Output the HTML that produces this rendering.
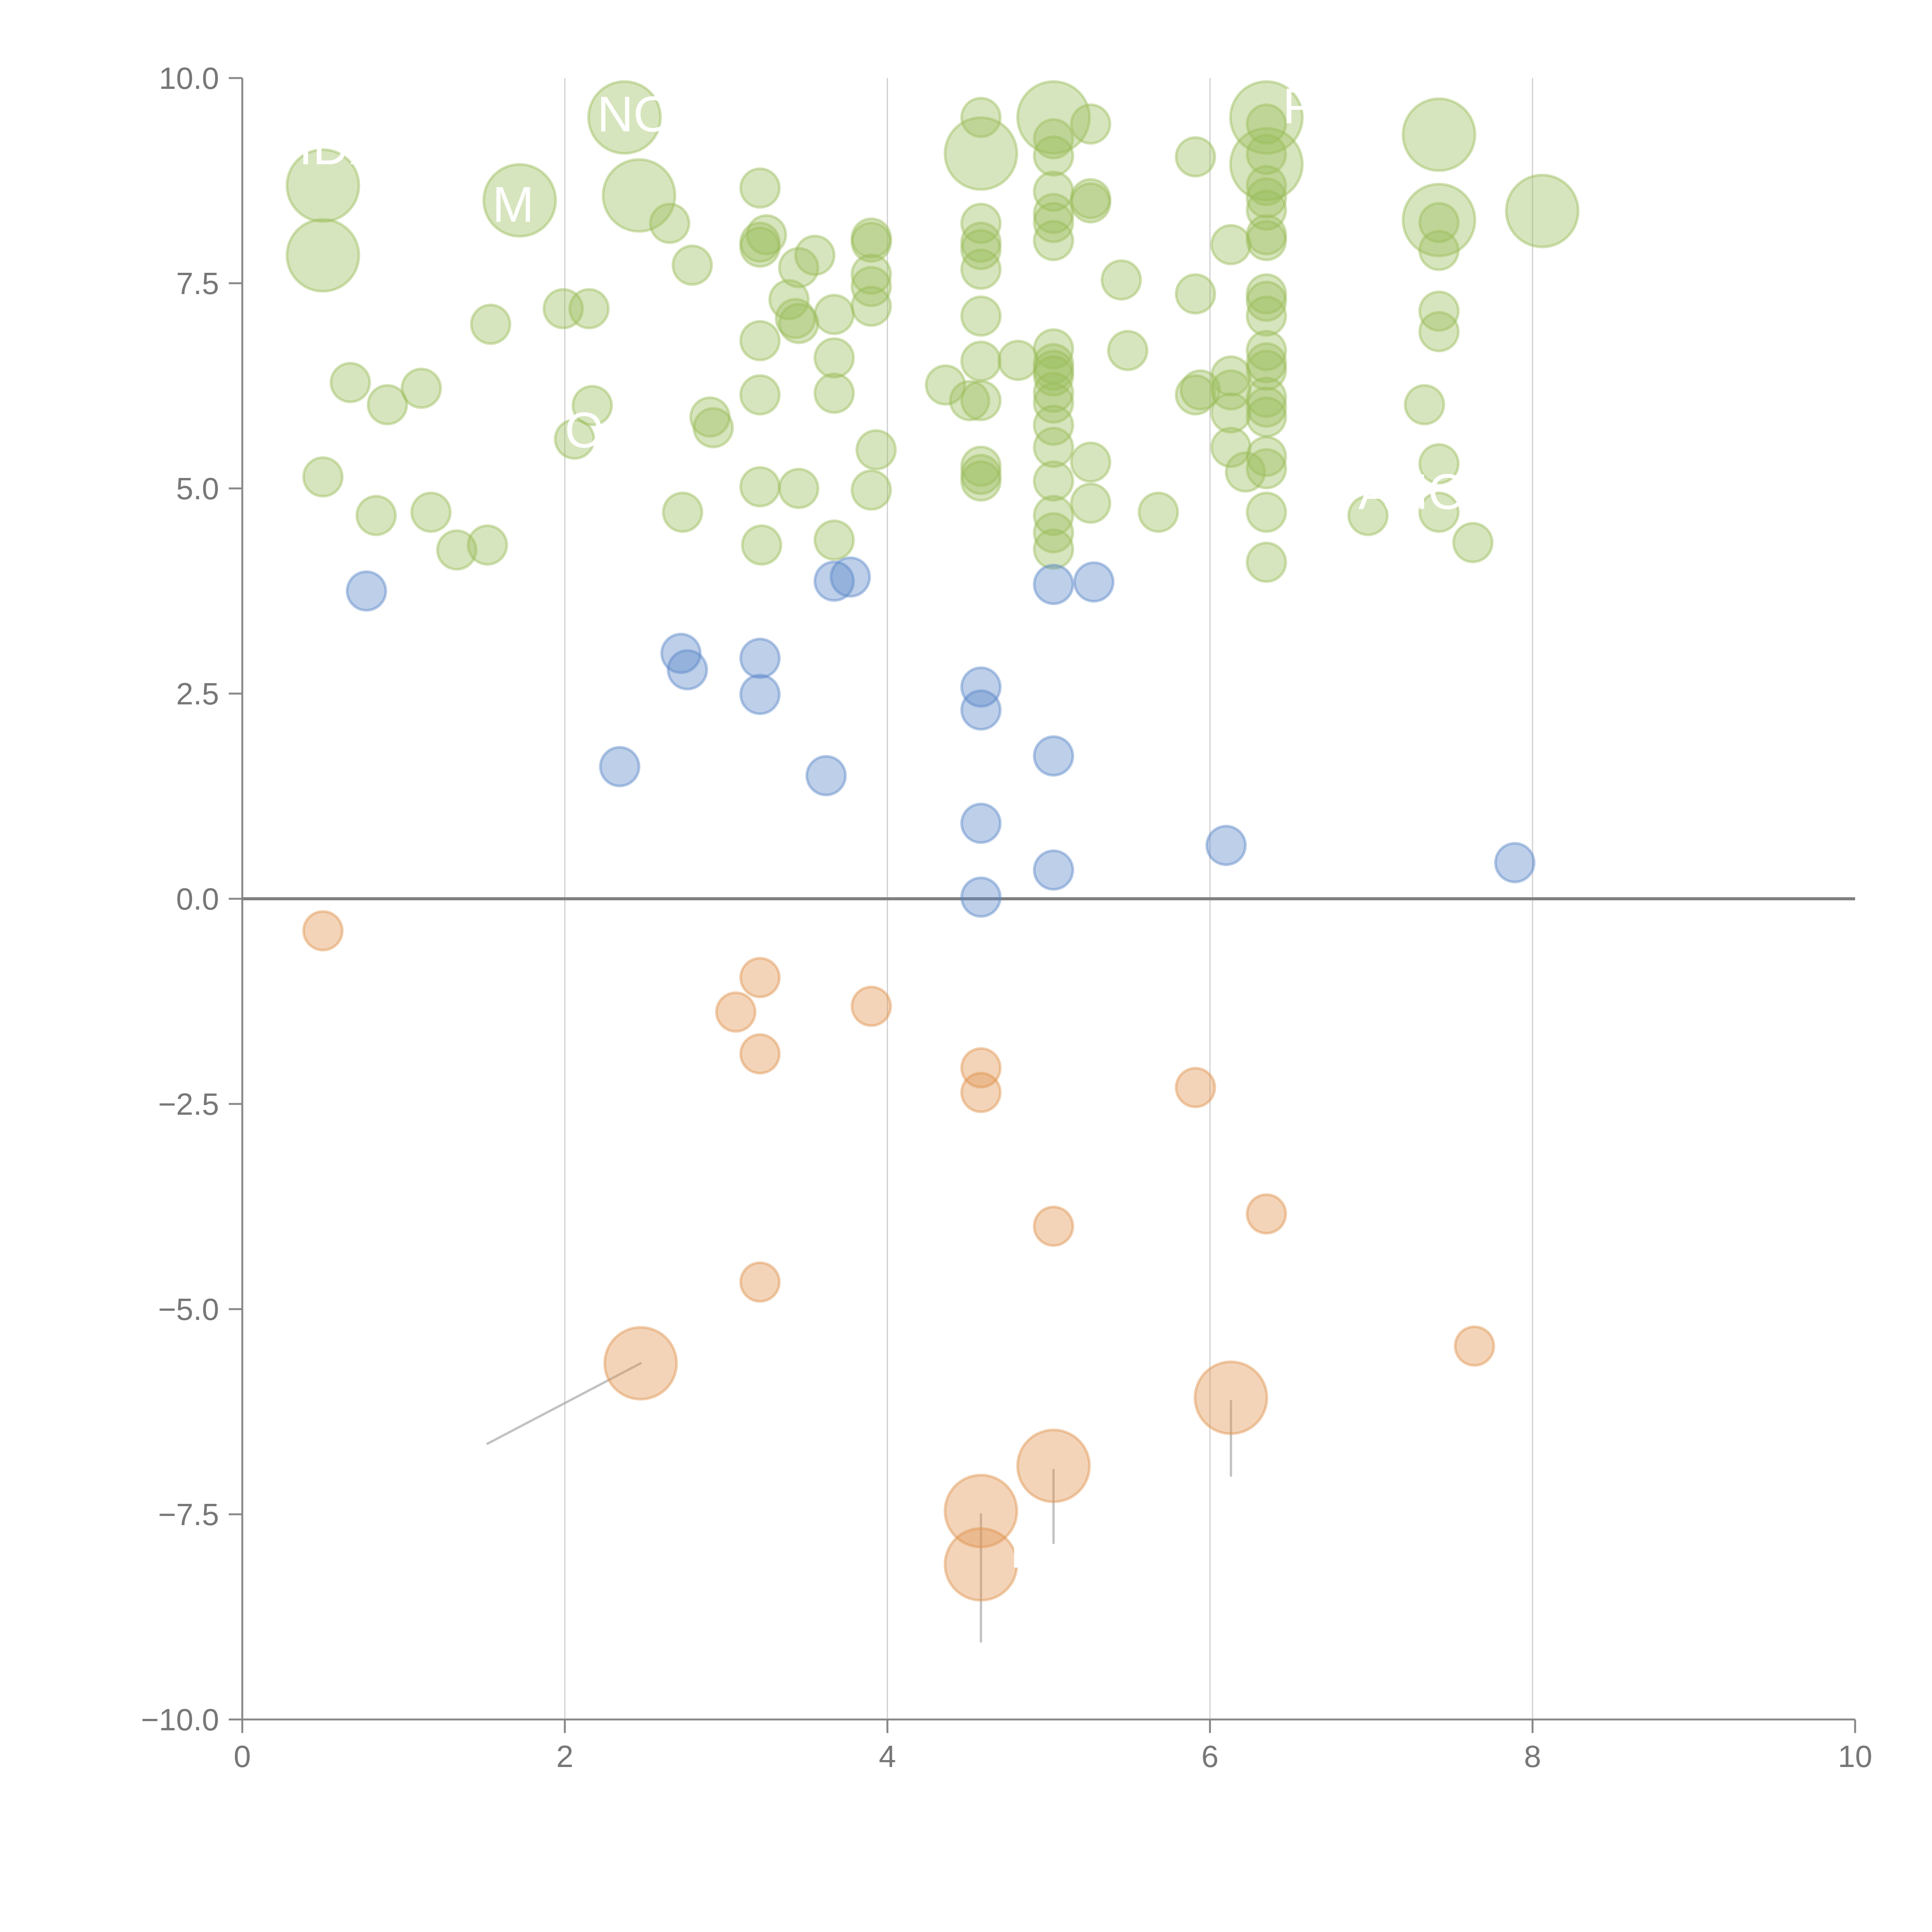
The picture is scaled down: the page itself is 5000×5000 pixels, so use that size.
<!DOCTYPE html>
<html><head><meta charset="utf-8"><style>
html,body{margin:0;padding:0;background:#fff;}
svg{display:block;font-family:"Liberation Sans",sans-serif;}
</style></head><body>
<svg id="chart" width="5000" height="5000" viewBox="0 0 5000 5000" xmlns="http://www.w3.org/2000/svg">
<rect width="5000" height="5000" fill="#fff"/>
<g id="grid"></g>
<g id="axes"></g>
<g id="lines"></g>
<g id="marks"></g>
<g id="labels"></g>
</svg>
<script>
const xTicks = [0,2,4,6,8,10];
const yTicks = [-10,-7.5,-5,-2.5,0,2.5,5,7.5,10];
const yTickLabels = ["\u221210.0","\u22127.5","\u22125.0","\u22122.5","0.0","2.5","5.0","7.5","10.0"];

const greenX = [0.50,0.67,0.83,0.90,1.11,1.17,1.33,1.52,1.54,1.99,2.06,2.15,2.17,2.65,2.73,2.79,2.90,2.92,3.21,3.21,3.21,3.25,3.21,3.21,3.21,3.22,3.39,3.43,3.45,3.45,3.45,3.55,3.67,3.67,3.67,3.67,3.90,3.90,3.90,3.90,3.90,3.90,3.93,4.36,4.51,4.58,4.58,4.58,4.58,4.58,4.58,4.58,4.58,4.58,4.58,4.58,4.81,5.03,5.03,5.03,5.03,5.03,5.03,5.03,5.03,5.03,5.03,5.03,5.03,5.03,5.03,5.03,5.03,5.03,5.03,5.26,5.26,5.26,5.26,5.26,5.45,5.49,5.68,5.91,5.91,5.91,5.94,6.13,6.13,6.13,6.13,6.13,6.22,6.35,6.35,6.35,6.35,6.35,6.35,6.35,6.35,6.35,6.35,6.35,6.35,6.35,6.35,6.35,6.35,6.35,6.35,6.35,6.35,6.98,7.33,7.42,7.42,7.42,7.42,7.42,7.42,7.63];
const greenY = [5.14,6.29,4.67,6.02,6.22,4.71,4.25,4.31,7.00,7.19,5.60,7.19,6.01,8.23,4.71,7.72,5.87,5.74,8.66,8.00,7.94,8.09,6.80,6.14,5.02,4.31,7.30,7.07,7.01,7.69,5.00,7.84,7.12,6.59,6.16,4.37,8.05,8.00,7.61,7.46,7.22,4.98,5.47,6.26,6.07,9.52,8.23,8.00,7.91,7.67,7.10,6.55,6.07,5.27,5.17,5.09,6.56,9.26,9.05,8.62,8.35,8.24,8.02,6.70,6.52,6.44,6.37,6.17,6.04,5.77,5.50,5.09,4.67,4.46,4.26,9.44,8.53,8.48,5.32,4.82,7.54,6.68,4.71,9.04,7.37,6.14,6.20,7.97,6.37,6.20,5.92,5.50,5.20,9.44,9.07,8.69,8.54,8.39,8.09,8.02,7.37,7.28,7.10,6.68,6.53,6.44,6.11,5.99,5.87,5.39,5.24,4.71,4.10,4.67,6.02,8.24,7.90,7.16,6.91,5.30,4.71,4.34];
const greenBigX = [0.50,0.50,1.72,2.37,2.46,4.58,5.03,6.35,6.35,7.42,7.42,8.06];
const greenBigY = [8.69,7.84,8.51,9.52,8.57,9.08,9.52,9.52,8.95,9.31,8.27,8.38];
const blueX = [0.77,2.34,2.72,2.76,3.21,3.21,3.62,3.67,3.77,4.58,4.58,4.58,4.58,5.03,5.03,5.03,5.28,6.10,7.89];
const blueY = [3.75,1.61,2.99,2.79,2.93,2.49,1.50,3.87,3.92,2.58,2.30,0.92,0.02,3.83,1.74,0.35,3.86,0.65,0.44];
const orangeX = [0.50,3.21,3.06,3.21,3.90,4.58,4.58,5.91,5.03,6.35,3.21,7.64];
const orangeY = [-0.39,-0.96,-1.38,-1.89,-1.31,-2.06,-2.36,-2.30,-3.99,-3.84,-4.67,-5.45];
const orangeBigX = [2.47,4.58,4.58,5.03,6.13];
const orangeBigY = [-5.66,-7.46,-8.11,-6.91,-6.08];
const leaderFromX = [2.47,4.58,5.03,6.13];
const leaderFromY = [-5.66,-7.50,-6.96,-6.12];
const leaderToX = [1.52,4.58,5.03,6.13];
const leaderToY = [-6.64,-9.05,-7.85,-7.03];
const labelText = ["K","NO","IDX","M","P","AHO","O"];
const labelX = [4.76,2.20,0.35,1.55,6.45,6.92,2.0];
const labelY = [-8.15,9.35,8.95,8.25,9.45,4.75,5.5];

const NS="http://www.w3.org/2000/svg";
const X0=627,X1=4801,Y0=4450,Y1=202;
const sx=v=>X0+(v-0)/10*(X1-X0);
const sy=v=>Y0-(v+10)/20*(Y0-Y1);
function mk(tag,attrs,parent){const e=document.createElementNS(NS,tag);for(const k in attrs)e.setAttribute(k,attrs[k]);parent.appendChild(e);return e;}
const grid=document.getElementById('grid'),axes=document.getElementById('axes'),marks=document.getElementById('marks'),lines=document.getElementById('lines'),labels=document.getElementById('labels');

xTicks.forEach(t=>{
  if(t>0&&t<10){const g=mk('line',{x1:sx(t),x2:sx(t),y1:Y1,y2:Y0,stroke:'#cfcfcf','stroke-width':3},grid);
  
  }
  const tk=mk('line',{x1:sx(t),x2:sx(t),y1:Y0,y2:Y0+35,stroke:'#888','stroke-width':5},axes);
  
  
  const tl=mk('text',{x:sx(t),y:Y0+123,'text-anchor':'middle','font-size':80,fill:'#777'},axes);
  tl.textContent=t;
  
  
});
yTicks.forEach((t,i)=>{
  const tk=mk('line',{x1:X0-35,x2:X0,y1:sy(t),y2:sy(t),stroke:'#888','stroke-width':5},axes);
  
  
  const tl=mk('text',{x:X0-60,y:sy(t)+28,'text-anchor':'end','font-size':80,fill:'#777'},axes);
  tl.textContent=yTickLabels[i];
  
  
});
const ya=mk('line',{x1:X0,x2:X0,y1:Y1,y2:Y0,stroke:'#888','stroke-width':5},axes);


const xa=mk('line',{x1:X0,x2:X1,y1:Y0,y2:Y0,stroke:'#888','stroke-width':5},axes);


const zl=mk('line',{x1:X0,x2:X1,y1:sy(0),y2:sy(0),stroke:'#808080','stroke-width':8},axes);



function series(xs,ys,r,fill,stroke,name){
  xs.forEach((x,i)=>{
    const c=mk('circle',{cx:sx(x),cy:sy(ys[i]),r:r,fill:fill,'fill-opacity':0.4,stroke:stroke,'stroke-opacity':0.45,'stroke-width':7},marks);
    
    
  });
}
series(greenX,greenY,50,'#9bbd5c','#9bbd5c','green-bubble');
series(greenBigX,greenBigY,93,'#9bbd5c','#9bbd5c','green-bubble-large');
series(blueX,blueY,50,'#5b88c8','#5b88c8','blue-bubble');
series(orangeX,orangeY,50,'#e0944f','#e0944f','orange-bubble');
series(orangeBigX,orangeBigY,93,'#e0944f','#e0944f','orange-bubble-large');

leaderFromX.forEach((x,i)=>{
  const l=mk('line',{x1:sx(x),y1:sy(leaderFromY[i]),x2:sx(leaderToX[i]),y2:sy(leaderToY[i]),stroke:'#999','stroke-opacity':0.6,'stroke-width':6,'stroke-linecap':'round'},lines);
  
  
});
labelText.forEach((t,i)=>{
  const tx=mk('text',{x:sx(labelX[i]),y:sy(labelY[i]),'font-size':130,fill:'#fff'},labels);
  tx.textContent=t;
  
  
});
</script>
</body></html>
